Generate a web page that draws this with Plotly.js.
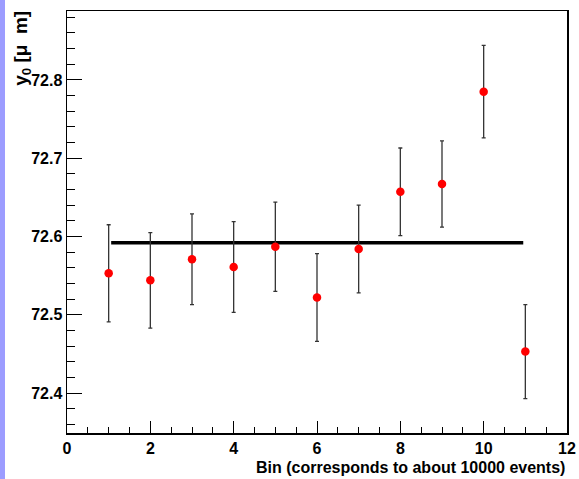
<!DOCTYPE html>
<html>
<head>
<meta charset="utf-8">
<script src="https://cdn.plot.ly/plotly-3.0.1.min.js"></script>
<style>
html,body{margin:0;padding:0;background:#fff;}
#strip{position:absolute;left:0;top:0;width:5px;height:479px;background:#9c9cff;}
#chart{position:absolute;left:0;top:0;width:579px;height:479px;}
</style>
</head>
<body>
<div id="chart"></div>
<div id="strip"></div>
<script>
// Data
const bins = [1, 2, 3, 4, 5, 6, 7, 8, 9, 10, 11];
const y0 = [72.553, 72.544, 72.571, 72.561, 72.587, 72.522, 72.584, 72.657, 72.667, 72.785, 72.453];
const y0Err = [0.062, 0.061, 0.058, 0.058, 0.057, 0.056, 0.056, 0.056, 0.055, 0.059, 0.060];
const fitX = [1.06, 10.95];
const fitY = [72.592, 72.592];
const xTicks = [0, 2, 4, 6, 8, 10, 12];
const yTicks = [72.4, 72.5, 72.6, 72.7, 72.8];

const fam = '"Liberation Sans", Arial, Helvetica, sans-serif';
const font = {family: fam, size: 16, color: '#000', weight: 'bold'};
const yTitleFont = {family: fam, size: 19, color: '#000', weight: 'bold'};

const traces = [
  {
    x: fitX, y: fitY, type: 'scatter', mode: 'lines',
    line: {color: '#000', width: 3.5}, hoverinfo: 'skip'
  },
  {
    x: bins, y: y0, type: 'scatter', mode: 'markers',
    marker: {color: '#ff0000', size: 8.5},
    error_y: {type: 'data', array: y0Err, visible: true, color: '#333', thickness: 1.3, width: 2}
  }
];

const layout = {
  width: 579, height: 479,
  margin: {l: 67, r: 12, t: 11, b: 46},
  paper_bgcolor: '#fff', plot_bgcolor: '#fff',
  showlegend: false,
  xaxis: {
    range: [0, 12], tickvals: xTicks, ticktext: xTicks.map(String),
    ticks: 'inside', ticklen: 12, tickwidth: 1, tickcolor: '#000',
    minor: {dtick: 0.5, ticks: 'inside', ticklen: 6, tickcolor: '#000', tickwidth: 1},
    showgrid: false, zeroline: false, showline: true, linecolor: '#000', linewidth: 1.5, mirror: true,
    tickfont: font
  },
  yaxis: {
    range: [72.349, 72.888], tickvals: yTicks, ticktext: yTicks.map(v => v.toFixed(1)),
    ticks: 'inside', ticklen: 15, tickwidth: 1, tickcolor: '#000',
    minor: {dtick: 0.02, tick0: 72.4, ticks: 'inside', ticklen: 8, tickcolor: '#000', tickwidth: 1},
    showgrid: false, zeroline: false, showline: true, linecolor: '#000', linewidth: 1.5, mirror: true,
    tickfont: font
  },
  annotations: [
    {
      text: 'Bin (corresponds to about 10000 events)', xref: 'paper', yref: 'paper',
      x: 1, y: -0.081, xanchor: 'right', yanchor: 'middle', showarrow: false, font: font
    },
    {
      text: 'y<sub>0</sub>\u00a0[μ\u00a0\u00a0m]', xref: 'paper', yref: 'paper', textangle: -90,
      x: -0.09, y: 1.004, xanchor: 'center', yanchor: 'top', showarrow: false, font: yTitleFont
    }
  ]
};

Plotly.newPlot('chart', traces, layout, {displayModeBar: false, staticPlot: true});
</script>
</body>
</html>
